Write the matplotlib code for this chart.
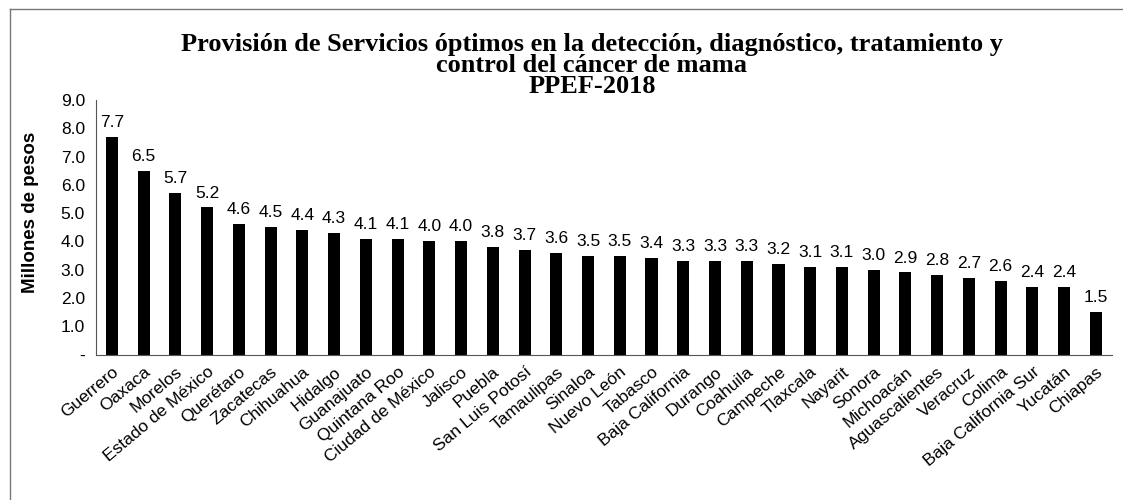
import matplotlib
matplotlib.use('Agg')
from matplotlib import pyplot as plt
from matplotlib.lines import Line2D
import numpy as np

# datos: millones de pesos por entidad
estados = ['Guerrero', 'Oaxaca', 'Morelos', 'Estado de México', 'Querétaro',
           'Zacatecas', 'Chihuahua', 'Hidalgo', 'Guanajuato', 'Quintana Roo',
           'Ciudad de México', 'Jalisco', 'Puebla', 'San Luis Potosí',
           'Tamaulipas', 'Sinaloa', 'Nuevo León', 'Tabasco', 'Baja California',
           'Durango', 'Coahuila', 'Campeche', 'Tlaxcala', 'Nayarit', 'Sonora',
           'Michoacán', 'Aguascalientes', 'Veracruz', 'Colima',
           'Baja California Sur', 'Yucatán', 'Chiapas']
montos = [7.7, 6.5, 5.7, 5.2, 4.6, 4.5, 4.4, 4.3, 4.1, 4.1, 4.0, 4.0, 3.8, 3.7,
          3.6, 3.5, 3.5, 3.4, 3.3, 3.3, 3.3, 3.2, 3.1, 3.1, 3.0, 2.9, 2.8, 2.7,
          2.6, 2.4, 2.4, 1.5]
yticks = [0, 1, 2, 3, 4, 5, 6, 7, 8, 9]
ytick_labels = ['-', '1.0', '2.0', '3.0', '4.0', '5.0', '6.0', '7.0', '8.0', '9.0']

titulo = ('Provisión de Servicios óptimos en la detección, diagnóstico, tratamiento y\n'
          'control del cáncer de mama\nPPEF-2018')

plt.rcParams['font.family'] = ['Liberation Sans', 'DejaVu Sans']

fig = plt.figure(figsize=(11.23, 5.0), dpi=100)
ax = fig.add_axes([0.0855, 0.291, 0.9045, 0.509])

x = np.arange(len(estados))
barras = ax.bar(x, montos, width=0.38, color='black')
for b, v in zip(barras, montos):
    ax.annotate('%.1f' % v, (b.get_x() + b.get_width() / 2, v),
                xytext=(0, 5), textcoords='offset points',
                ha='center', va='bottom', fontsize=12.5)

ax.set_xlim(-0.5, len(estados) - 0.5)
ax.set_ylim(0, 9)
ax.set_yticks(yticks)
ax.set_yticklabels(ytick_labels, fontsize=12.5)
ax.set_xticks(x)
ax.set_xticklabels(estados, rotation=40, ha='right', rotation_mode='anchor',
                   fontsize=12.5)
ax.tick_params(length=0, pad=8)
ax.tick_params(axis='x', pad=7)
ax.set_ylabel('Millones de pesos', fontsize=13.5, fontweight='bold')
ax.yaxis.set_label_coords(-0.056, 0.56)

for s in ['top', 'right']:
    ax.spines[s].set_visible(False)
ax.spines['left'].set_color('#555555')
ax.spines['bottom'].set_color('#555555')

fig.text(0.527, 0.933, titulo, ha='center', va='top', fontsize=19,
         fontweight='bold', family='Liberation Serif', linespacing=0.88)

# marco del gráfico
fig.add_artist(Line2D([0.009, 1.0], [0.982, 0.982], color='#777777', lw=1,
                      transform=fig.transFigure))
fig.add_artist(Line2D([0.009, 0.009], [0.0, 0.982], color='#777777', lw=1,
                      transform=fig.transFigure))

plt.savefig('out.png', dpi=100)
